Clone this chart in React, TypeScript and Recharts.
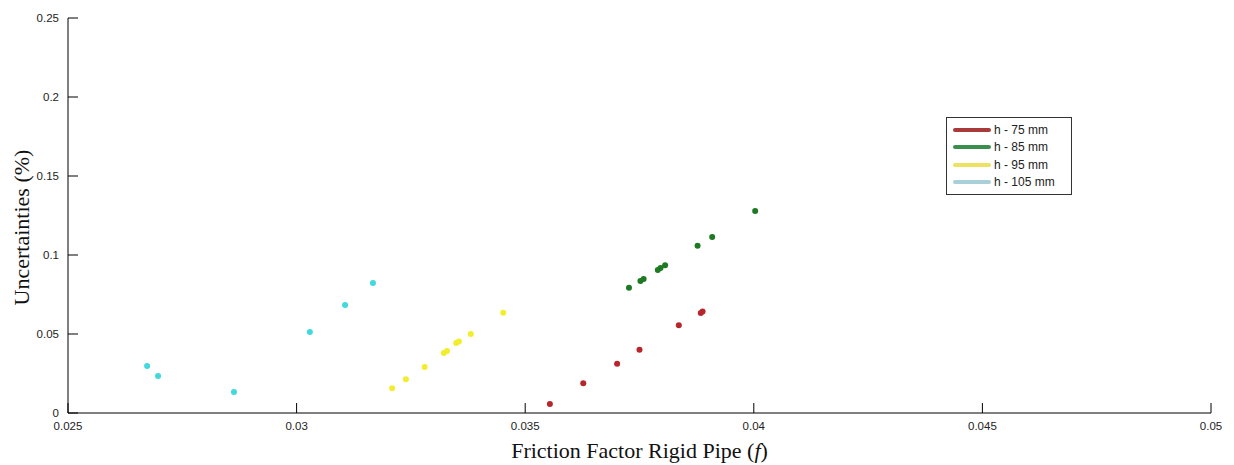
import { ScatterChart, Scatter, XAxis, YAxis, Legend } from 'recharts';

// friction factor (x) and uncertainty (y) for each water height
const h75F = [0.03554, 0.03627, 0.03701, 0.0375, 0.03836, 0.03884, 0.03888];
const h75U = [0.0057, 0.0188, 0.0312, 0.0401, 0.0555, 0.0633, 0.0642];

const h85F = [0.03727, 0.03752, 0.03759, 0.0379, 0.03796, 0.03806, 0.03877, 0.03909, 0.04003];
const h85U = [0.0793, 0.0835, 0.0848, 0.0905, 0.0918, 0.0935, 0.1059, 0.1114, 0.1279];

const h95F = [0.03209, 0.03239, 0.0328, 0.03322, 0.03329, 0.03349, 0.03355, 0.03381, 0.03452];
const h95U = [0.0156, 0.0213, 0.0291, 0.038, 0.0392, 0.0443, 0.0453, 0.05, 0.0635];

const h105F = [0.02673, 0.02697, 0.02863, 0.03029, 0.03106, 0.03167];
const h105U = [0.0297, 0.0234, 0.0133, 0.0513, 0.0684, 0.0823];

const seriesNames = ['h - 75 mm', 'h - 85 mm', 'h - 95 mm', 'h - 105 mm'];
const dotColors = ['#b8252a', '#1d7a22', '#f2ed2d', '#41d9dc'];
const legendColors = ['#a93a3a', '#3b8f4d', '#eee262', '#a9d0d8'];

const xTicks = [0.025, 0.03, 0.035, 0.04, 0.045, 0.05];
const yTicks = [0, 0.05, 0.1, 0.15, 0.2, 0.25];

const zip = (f: number[], u: number[]) => f.map((x, i) => ({ f: x, u: u[i] }));
const seriesData = [zip(h75F, h75U), zip(h85F, h85U), zip(h95F, h95U), zip(h105F, h105U)];

const tickFont = { fontFamily: 'Liberation Sans, Arial, sans-serif', fontSize: 11.5, fill: '#222' };

const XTick = (props: any) => {
  const { x, y, payload } = props;
  return (
    <g>
      <line x1={x} y1={y} x2={x} y2={y - 10} stroke="#000" />
      <text x={x} y={y + 17} textAnchor="middle" {...tickFont}>{String(payload.value)}</text>
    </g>
  );
};

const YTick = (props: any) => {
  const { x, y, payload } = props;
  return (
    <g>
      <line x1={x} y1={y} x2={x + 10} y2={y} stroke="#000" />
      <text x={x - 9} y={y + 4} textAnchor="end" {...tickFont}>{String(payload.value)}</text>
    </g>
  );
};

const XTitle = (props: any) => {
  const vb = props.viewBox || { x: 68, y: 413, width: 1143, height: 52 };
  return (
    <text x={vb.x + vb.width / 2} y={vb.y + 45} textAnchor="middle"
      fontFamily="Liberation Serif, Times New Roman, serif" fontSize={22} fill="#111">
      Friction Factor Rigid Pipe (<tspan fontStyle="italic">f</tspan>)
    </text>
  );
};

const YTitle = (props: any) => {
  const vb = props.viewBox || { x: 0, y: 18, width: 68, height: 395 };
  const cx = vb.x + 29;
  const cy = vb.y + vb.height / 2 + 12;
  return (
    <text x={cx} y={cy} textAnchor="middle" transform={`rotate(-90, ${cx}, ${cy})`}
      fontFamily="Liberation Serif, Times New Roman, serif" fontSize={22} fill="#111">
      Uncertainties (%)
    </text>
  );
};

const LegendBox = () => (
  <div style={{
    border: '1px solid #333', background: '#fff', width: 124, padding: '3px 0 3px 0',
    fontFamily: 'Liberation Sans, Arial, sans-serif', fontSize: 12, color: '#222',
  }}>
    {seriesNames.map((n, i) => (
      <div key={n} style={{ display: 'flex', alignItems: 'center', height: 17.5 }}>
        <span style={{ display: 'inline-block', marginLeft: 6, width: 38, height: 4, borderRadius: 2, background: legendColors[i] }} />
        <span style={{ marginLeft: 3 }}>{n}</span>
      </div>
    ))}
  </div>
);

export default function App() {
  return (
    <div style={{ position: 'absolute', left: 0, top: 0, background: '#fff' }}>
      <ScatterChart width={1234} height={465} margin={{ top: 18, right: 23, bottom: 0, left: 0 }}>
        <XAxis type="number" dataKey="f" domain={[0.025, 0.05]} ticks={xTicks} height={52}
          axisLine={{ stroke: '#000' }} tickLine={false} tickSize={0} tickMargin={0}
          tick={<XTick />} label={<XTitle />} allowDataOverflow />
        <YAxis type="number" dataKey="u" domain={[0, 0.25]} ticks={yTicks} width={68}
          axisLine={{ stroke: '#000' }} tickLine={false} tickSize={0} tickMargin={0}
          tick={<YTick />} label={<YTitle />} allowDataOverflow />
        <Legend content={<LegendBox />} layout="vertical" align="center" verticalAlign="middle"
          wrapperStyle={{ left: 946, top: 117, width: 'auto' }} />
        {seriesData.map((d, i) => (
          <Scatter key={seriesNames[i]} name={seriesNames[i]} data={d} fill={dotColors[i]}
            isAnimationActive={false}
            shape={(p: any) => <circle cx={p.cx} cy={p.cy} r={3} fill={dotColors[i]} />} />
        ))}
      </ScatterChart>
    </div>
  );
}
